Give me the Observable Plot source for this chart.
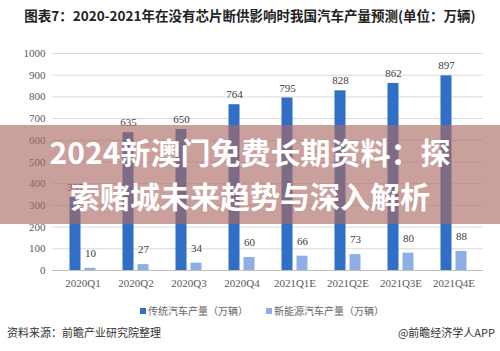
<!DOCTYPE html>
<html>
<head>
<meta charset="utf-8">
<script src="https://cdn.jsdelivr.net/npm/d3@7"></script>
<script src="https://cdn.jsdelivr.net/npm/@observablehq/plot@0.6"></script>
<style>
  html, body { margin: 0; padding: 0; background: #fff; }
  #wrap { position: relative; width: 500px; height: 351px; overflow: hidden; font-family: "Noto Sans CJK SC", sans-serif; }
  #title { position: absolute; left: 0; width: 500px; top: 5px; text-align: center; font-size: 13.5px; font-weight: bold; color: #222; white-space: nowrap; }
  #chart { position: absolute; left: 0; top: 30px; }
  #legend { position: absolute; top: 303px; left: 0; width: 500px; font-size: 10px; color: #666; }
  .li { position: absolute; white-space: nowrap; }
  .sw { display: inline-block; width: 6px; height: 6px; margin-right: 2px; vertical-align: 1px; }
  #src { position: absolute; left: 7px; top: 324px; font-size: 11px; color: #333; }
  #app { position: absolute; right: 5px; top: 324px; font-size: 11px; color: #333; }
  #banner { position: absolute; left: 0; top: 125px; width: 500px; height: 99px; background: rgba(171,107,100,0.64); }
  #bannerText { position: absolute; left: 0; top: 125px; width: 500px; text-align: center; color: #fff; font-weight: bold; font-size: 30px; line-height: 44px; padding-top: 4px; font-family: "Noto Sans CJK SC", sans-serif; }
</style>
</head>
<body>
<div id="wrap">
  <div id="title"></div>
  <div id="chart"></div>
  <div id="legend"></div>
  <div id="src"></div>
  <div id="app"></div>
  <div id="banner"></div>
  <div id="bannerText"></div>
</div>
<script>
const titleText = "图表7：2020-2021年在没有芯片断供影响时我国汽车产量预测(单位：万辆)";
const quarters = ["2020Q1","2020Q2","2020Q3","2020Q4","2021Q1E","2021Q2E","2021Q3E","2021Q4E"];
const traditional = [337, 635, 650, 764, 795, 828, 862, 897];
const nev = [10, 27, 34, 60, 66, 73, 80, 88];
const seriesNames = ["传统汽车产量（万辆）", "新能源汽车产量（万辆）"];
const seriesColors = ["#2f6fc6", "#8eaee6"];
const yTicks = [0,100,200,300,400,500,600,700,800,900,1000];
const sourceText = "资料来源：前瞻产业研究院整理";
const appText = "@前瞻经济学人APP";
const bannerLines = ["2024新澳门免费长期资料：探", "索赌城未来趋势与深入解析"];

document.getElementById("title").textContent = titleText;
document.getElementById("src").textContent = sourceText;
document.getElementById("app").textContent = appText;
document.getElementById("bannerText").innerHTML = bannerLines.map(l => `<div>${l}</div>`).join("");

const tradData = quarters.map((q, i) => ({q, v: traditional[i]}));
const nevData = quarters.map((q, i) => ({q, v: nev[i]}));
const serif = "Liberation Serif, Times New Roman, serif";

const plot = Plot.plot({
  width: 500,
  height: 270,
  marginTop: 23,
  marginBottom: 30,
  marginLeft: 52,
  marginRight: 17,
  style: { fontFamily: serif, fontSize: "11px", color: "#595959", background: "transparent" },
  x: { domain: quarters, padding: 0, label: null, tickSize: 0, tickPadding: 9 },
  y: { domain: [0, 1000], ticks: yTicks, label: null, tickSize: 0, tickPadding: 7, tickFormat: d => String(d) },
  marks: [
    Plot.ruleY(yTicks.slice(1), { stroke: "#d9d9d9", strokeWidth: 1 }),
    Plot.ruleY([0], { stroke: "#bfbfbf", strokeWidth: 1 }),
    Plot.barY(tradData, { x: "q", y: "v", fill: seriesColors[0], insetLeft: 13.5, insetRight: 28.5 }),
    Plot.barY(nevData, { x: "q", y: "v", fill: seriesColors[1], insetLeft: 28.5, insetRight: 13.5 }),
    Plot.text(tradData, { x: "q", y: "v", text: d => String(d.v), dx: -7.5, dy: -10, fill: "#404040", fontSize: 11, fontFamily: serif }),
    Plot.text(nevData, { x: "q", y: "v", text: d => String(d.v), dx: 7.5, dy: -15, fill: "#404040", fontSize: 11, fontFamily: serif })
  ]
});
document.getElementById("chart").appendChild(plot);

const legend = document.getElementById("legend");
const lefts = [140, 266];
seriesNames.forEach((n, i) => {
  const d = document.createElement("div");
  d.className = "li";
  d.style.left = lefts[i] + "px";
  d.innerHTML = `<span class="sw" style="background:${seriesColors[i]}"></span>${n}`;
  legend.appendChild(d);
});
</script>
</body>
</html>
